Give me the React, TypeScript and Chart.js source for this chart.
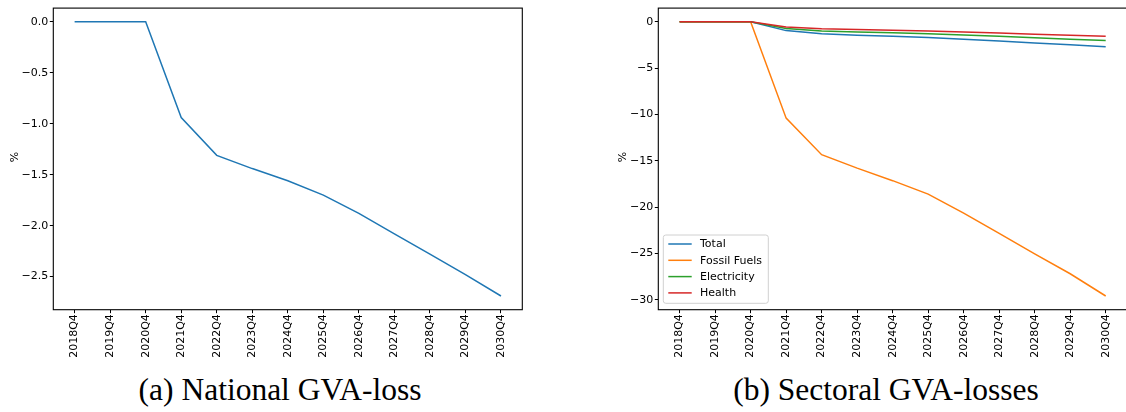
import React, { useEffect, useRef } from 'react';
import { Chart, registerables } from 'chart.js';

Chart.register(...registerables);

// ---------- data ----------
const quarters = ['2018Q4', '2019Q4', '2020Q4', '2021Q4', '2022Q4', '2023Q4', '2024Q4', '2025Q4', '2026Q4', '2027Q4', '2028Q4', '2029Q4', '2030Q4'];
const nationalLoss = [0, 0, 0, -0.94, -1.31, -1.44, -1.56, -1.7, -1.88, -2.08, -2.28, -2.48, -2.69];
const totalLoss = [0, 0, 0, -0.95, -1.3, -1.44, -1.56, -1.7, -1.88, -2.08, -2.28, -2.48, -2.69];
const fossilFuelsLoss = [0, 0, 0, -10.4, -14.35, -15.8, -17.15, -18.6, -20.65, -22.85, -25.05, -27.2, -29.6];
const electricityLoss = [0, 0, 0, -0.72, -0.99, -1.09, -1.18, -1.28, -1.42, -1.57, -1.72, -1.87, -2.03];
const healthLoss = [0, 0, 0, -0.55, -0.76, -0.84, -0.91, -0.99, -1.1, -1.21, -1.33, -1.45, -1.57];
const leftYTicks = [0, -0.5, -1.0, -1.5, -2.0, -2.5];
const rightYTicks = [0, -5, -10, -15, -20, -25, -30];
const seriesNames = ['Total', 'Fossil Fuels', 'Electricity', 'Health'];
const seriesColors = ['#1f77b4', '#ff7f0e', '#2ca02c', '#d62728'];

const FONT = "'DejaVu Sans', sans-serif";

function fmt(v: number, decimals: number): string {
  const s = Math.abs(v).toFixed(decimals);
  return v < 0 ? '\u2212' + s : s;
}

function paddedRange(values: number[][]) {
  const all = values.flat();
  const mn = Math.min(...all);
  const mx = Math.max(...all);
  const m = (mx - mn) * 0.05;
  return { min: mn - m, max: mx + m };
}

const framePlugin = {
  id: 'frame',
  afterDraw(chart: any) {
    const { ctx, chartArea: a } = chart;
    ctx.save();
    ctx.strokeStyle = '#000';
    ctx.lineWidth = 1.1;
    ctx.strokeRect(a.left, a.top, a.right - a.left, a.bottom - a.top);
    ctx.restore();
  },
};

const legendPlugin = {
  id: 'innerLegend',
  afterDraw(chart: any) {
    if (!chart.options.plugins.innerLegend || !chart.options.plugins.innerLegend.show) return;
    const { ctx, chartArea: a } = chart;
    const ds = chart.data.datasets;
    const bx = a.left + 5;
    const bw = 105;
    const bh = 68.3;
    const by = a.bottom - 6.4 - bh;
    ctx.save();
    ctx.beginPath();
    if (ctx.roundRect) ctx.roundRect(bx, by, bw, bh, 2.5);
    else ctx.rect(bx, by, bw, bh);
    ctx.fillStyle = 'rgba(255,255,255,0.8)';
    ctx.fill();
    ctx.strokeStyle = '#d0d0d0';
    ctx.lineWidth = 1;
    ctx.stroke();
    ctx.font = '11px ' + FONT;
    ctx.textBaseline = 'middle';
    ctx.textAlign = 'left';
    ds.forEach((d: any, i: number) => {
      const y = by + 9 + i * 16.3;
      ctx.beginPath();
      ctx.strokeStyle = d.borderColor;
      ctx.lineWidth = 1.5;
      ctx.moveTo(bx + 5, y);
      ctx.lineTo(bx + 28.4, y);
      ctx.stroke();
      ctx.fillStyle = '#000';
      ctx.fillText(d.label, bx + 36.7, y + 0.5);
    });
    ctx.restore();
  },
};

function makeConfig(
  datasets: any[],
  yTicks: number[],
  decimals: number,
  yWidth: number,
  padRight: number,
  showLegend: boolean
) {
  const range = paddedRange(datasets.map((d) => d.data.map((p: any) => p.y)));
  return {
    type: 'line',
    data: { datasets },
    options: {
      responsive: false,
      animation: false,
      events: [],
      parsing: false,
      layout: { padding: { left: 0, top: 5, right: padRight, bottom: 0 } },
      plugins: {
        legend: { display: false },
        tooltip: { enabled: false },
        innerLegend: { show: showLegend },
      },
      elements: { point: { radius: 0 }, line: { tension: 0 } },
      scales: {
        x: {
          type: 'linear',
          min: -0.6,
          max: quarters.length - 1 + 0.6,
          afterBuildTicks: (s: any) => {
            s.ticks = quarters.map((_, i) => ({ value: i }));
          },
          afterFit: (s: any) => {
            s.height = 60.3;
          },
          grid: { display: true, drawOnChartArea: false, drawTicks: true, tickLength: 3.5, color: '#000', lineWidth: 1 },
          border: { display: false },
          ticks: {
            autoSkip: false,
            minRotation: 90,
            maxRotation: 90,
            padding: 1,
            color: '#000',
            font: { family: FONT, size: 11 },
            callback: (v: any) => quarters[v],
          },
        },
        y: {
          type: 'linear',
          min: range.min,
          max: range.max,
          afterBuildTicks: (s: any) => {
            s.ticks = yTicks.map((v) => ({ value: v }));
          },
          afterFit: (s: any) => {
            s.width = yWidth;
          },
          grid: { display: true, drawOnChartArea: false, drawTicks: true, tickLength: 3.5, color: '#000', lineWidth: 1 },
          border: { display: false },
          ticks: {
            padding: 1.5,
            color: '#000',
            font: { family: FONT, size: 11 },
            callback: (v: any) => fmt(v, decimals),
          },
        },
      },
    },
    plugins: [framePlugin, legendPlugin],
  } as any;
}

function toPoints(values: number[]) {
  return values.map((v, i) => ({ x: i, y: v }));
}

function ChartCanvas({ config, width, height, left }: { config: () => any; width: number; height: number; left: number }) {
  const ref = useRef<HTMLCanvasElement | null>(null);
  useEffect(() => {
    if (!ref.current) return;
    const chart = new Chart(ref.current, config());
    return () => chart.destroy();
  }, []);
  return (
    <canvas
      ref={ref}
      width={width}
      height={height}
      style={{ position: 'absolute', left, top: 0, width, height }}
    />
  );
}

export default function App() {
  const leftConfig = () =>
    makeConfig(
      [
        {
          label: 'National',
          data: toPoints(nationalLoss),
          borderColor: seriesColors[0],
          borderWidth: 1.5,
          pointRadius: 0,
        },
      ],
      leftYTicks,
      1,
      53.3,
      17.7,
      false
    );
  const sectorValues = [totalLoss, fossilFuelsLoss, electricityLoss, healthLoss];
  const rightConfig = () =>
    makeConfig(
      sectorValues.map((vals, i) => ({
        label: seriesNames[i],
        data: toPoints(vals),
        borderColor: seriesColors[i],
        borderWidth: 1.5,
        pointRadius: 0,
        order: sectorValues.length - i,
      })),
      rightYTicks,
      0,
      98.3,
      13,
      true
    );

  const pctStyle: React.CSSProperties = {
    position: 'absolute',
    top: 157,
    fontFamily: FONT,
    fontSize: 11,
    color: '#000',
    transform: 'translate(-50%, -50%) rotate(-90deg)',
    whiteSpace: 'nowrap',
    lineHeight: '11px',
  };
  const capStyle: React.CSSProperties = {
    position: 'absolute',
    top: 373.5,
    fontFamily: "'Liberation Serif', serif",
    fontSize: 31.5,
    lineHeight: '31.5px',
    color: '#000',
    transform: 'translateX(-50%)',
    whiteSpace: 'nowrap',
  };

  return (
    <div
      style={{
        position: 'absolute',
        left: 0,
        top: 0,
        width: 1126,
        height: 412,
        overflow: 'hidden',
        background: '#fff',
      }}
    >
      <ChartCanvas config={leftConfig} width={540} height={370} left={0} />
      <ChartCanvas config={rightConfig} width={580} height={370} left={560} />
      <div style={{ ...pctStyle, left: 14 }}>%</div>
      <div style={{ ...pctStyle, left: 622 }}>%</div>
      <div style={{ ...capStyle, left: 280 }}>(a) National GVA-loss</div>
      <div style={{ ...capStyle, left: 886 }}>(b) Sectoral GVA-losses</div>
    </div>
  );
}
